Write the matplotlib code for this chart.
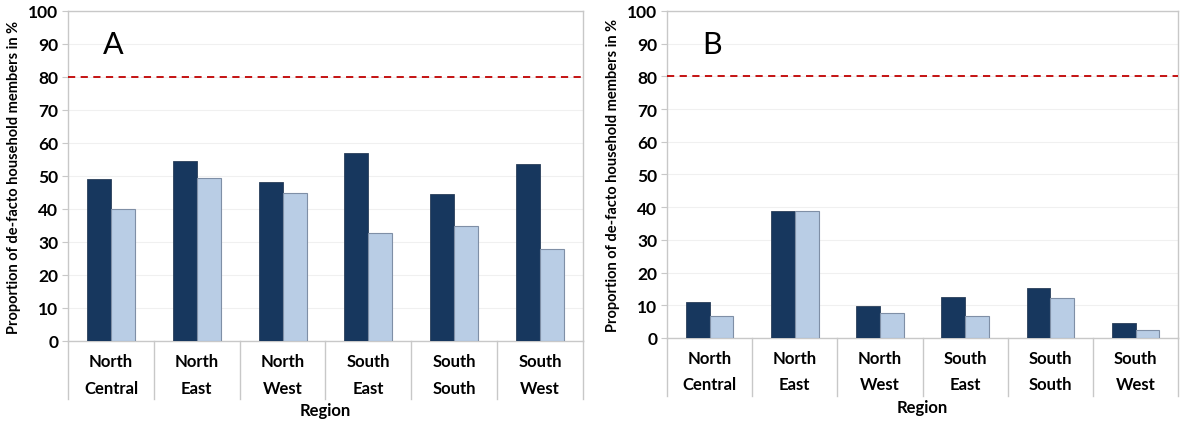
import matplotlib
matplotlib.use("Agg")
import matplotlib.pyplot as plt
import matplotlib.transforms as mtransforms

plt.rcParams['font.family'] = ['Lato', 'DejaVu Sans']

regions_top = ["North", "North", "North", "South", "South", "South"]
regions_bottom = ["Central", "East", "West", "East", "South", "West"]

# panel A
a_dark = [49.2, 54.4, 48.1, 57.1, 44.6, 53.6]
a_light = [40.0, 49.3, 44.8, 32.6, 34.8, 27.8]
# panel B
b_dark = [11.1, 38.9, 9.9, 12.5, 15.2, 4.7]
b_light = [6.6, 38.7, 7.5, 6.8, 12.1, 2.3]

target = 80

dark_col = "#17375E"
light_col = "#B9CDE5"
edge_light = "#7F8FA6"
frame_col = "#C8C8C8"


def draw_panel(ax, dark, light, letter):
    x = list(range(len(dark)))
    w = 0.28
    ax.bar([i - w / 2 for i in x], dark, width=w, color=dark_col,
           edgecolor="#2A3F5A", linewidth=0.6, zorder=3)
    ax.bar([i + w / 2 for i in x], light, width=w, color=light_col,
           edgecolor=edge_light, linewidth=0.8, zorder=3)
    ax.axhline(target, color="#C00000", linestyle=(0, (4, 3)), linewidth=1.3, zorder=4)

    ax.set_xlim(-0.5, len(dark) - 0.5)
    ax.set_ylim(0, 100)
    ax.set_yticks(range(0, 101, 10))
    ax.yaxis.grid(True, color="#F0F0F0", linewidth=0.8)
    ax.set_axisbelow(True)
    ax.tick_params(axis='y', labelsize=12.5, length=4, color=frame_col, width=0.8, pad=3)
    for lab in ax.get_yticklabels():
        lab.set_fontweight('bold')
    ax.set_xticks([])
    for s in ax.spines.values():
        s.set_color(frame_col)
        s.set_linewidth(1.0)

    trans = mtransforms.blended_transform_factory(ax.transData, ax.transAxes)
    for b in range(len(dark) + 1):
        ax.plot([b - 0.5, b - 0.5], [0, -0.177], transform=trans, color=frame_col,
                linewidth=1.0, clip_on=False)
    for i in x:
        ax.text(i, -0.061, regions_top[i], transform=trans, ha='center', va='center',
                fontsize=12, fontweight='bold')
        ax.text(i, -0.142, regions_bottom[i], transform=trans, ha='center', va='center',
                fontsize=12, fontweight='bold')
    ax.text(0.5, -0.21, "Region", transform=ax.transAxes, ha='center', va='center',
            fontsize=12, fontweight='bold')
    ax.set_ylabel("Proportion of de-facto household members in %", fontsize=10.5,
                  fontweight='bold', labelpad=5)
    ax.text(0.088, 0.9, letter, transform=ax.transAxes, ha='center', va='center',
            fontsize=22)


fig = plt.figure(figsize=(12, 4.31), dpi=100)
ax1 = fig.add_axes([0.0567, 0.2065, 0.429, 0.7657])
ax2 = fig.add_axes([0.5558, 0.2135, 0.426, 0.7587])
draw_panel(ax1, a_dark, a_light, "A")
draw_panel(ax2, b_dark, b_light, "B")

fig.savefig("out.png", dpi=100)
